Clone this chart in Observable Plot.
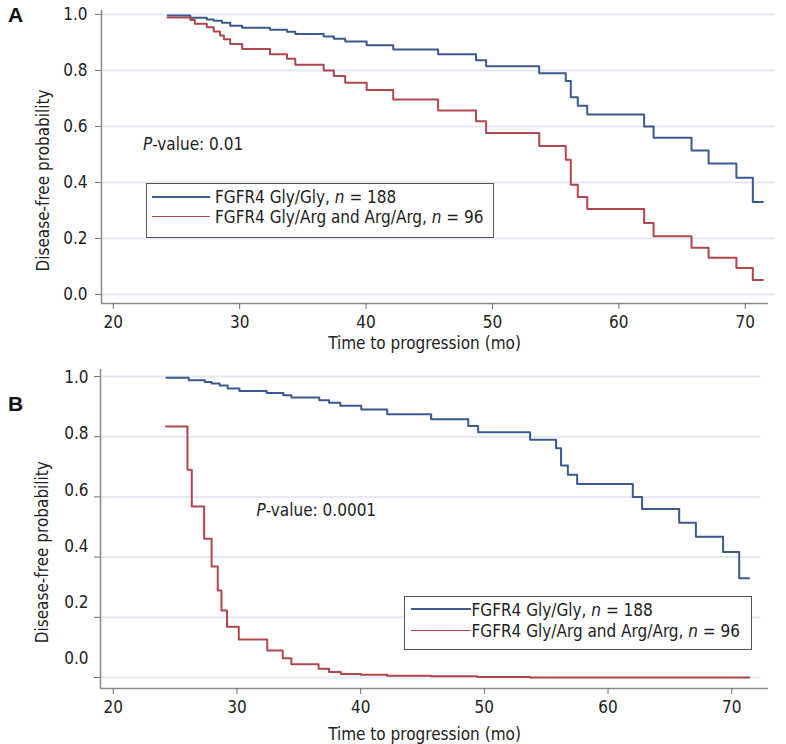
<!DOCTYPE html>
<html>
<head>
<meta charset="utf-8">
<script src="https://cdn.jsdelivr.net/npm/d3@7"></script>
<script src="https://cdn.jsdelivr.net/npm/@observablehq/plot@0.6"></script>
<style>
  html, body { margin: 0; padding: 0; background: #fff; }
  #page { position: relative; width: 786px; height: 744px; overflow: hidden;
          font-family: "DejaVu Sans Condensed", "Liberation Sans", Arial, sans-serif; color: #222; }
  .abs { position: absolute; white-space: nowrap; }
  .txt { font-size: 17px; line-height: 20px; }
  .letter { font-family: "Liberation Sans", Arial, sans-serif; font-weight: bold; font-size: 21px; line-height: 21px; color: #111; }
  .box { position: absolute; border: 1px solid #555; box-sizing: border-box; background: #fff; }
  .swatch { position: absolute; }
</style>
</head>
<body>
<div id="page">
  <div id="panelA" class="abs" style="left:0;top:0"></div>
  <div id="panelB" class="abs" style="left:0;top:358px"></div>
</div>
<script>
// ---------- data ----------
const xTicks = [20, 30, 40, 50, 60, 70];
const yTicks = [0, 0.2, 0.4, 0.6, 0.8, 1.0];
const groups = ["FGFR4 Gly/Gly", "FGFR4 Gly/Arg and Arg/Arg"];
const groupN = [188, 96];
const pValueA = "0.01";
const pValueB = "0.0001";

// Gly/Gly (same group in both panels)
const glyTime = [24.3, 26.1, 27.4, 27.95, 28.6, 29.25, 30.2, 32.4, 33.75, 34.4, 36.65, 37.45, 38.35, 40.05, 42.15, 45.7, 48.7, 49.5, 53.7, 55.8, 56.2, 56.75, 57.5, 62.0, 62.75, 65.75, 67.1, 69.3, 70.6, 71.4];
const glySurv = [0.996, 0.988, 0.982, 0.977, 0.970, 0.960, 0.952, 0.945, 0.938, 0.930, 0.921, 0.913, 0.903, 0.890, 0.875, 0.858, 0.836, 0.815, 0.790, 0.762, 0.704, 0.674, 0.643, 0.600, 0.560, 0.514, 0.468, 0.417, 0.330, 0.330];

// Gly/Arg + Arg/Arg, panel A
const argTimeA = [24.3, 26.1, 26.45, 27.4, 27.95, 28.45, 28.75, 29.25, 30.2, 32.4, 33.75, 34.4, 36.65, 37.45, 38.35, 40.05, 42.15, 45.7, 48.7, 49.5, 53.7, 55.8, 56.2, 56.75, 57.5, 62.0, 62.75, 65.75, 67.1, 69.3, 70.6, 71.4];
const argSurvA = [0.989, 0.980, 0.967, 0.954, 0.939, 0.925, 0.911, 0.894, 0.877, 0.858, 0.842, 0.820, 0.800, 0.780, 0.756, 0.730, 0.696, 0.657, 0.619, 0.577, 0.530, 0.481, 0.392, 0.348, 0.305, 0.255, 0.208, 0.167, 0.131, 0.095, 0.052, 0.052];

// Gly/Arg + Arg/Arg, panel B
const argTimeB = [24.25, 26.0, 26.35, 27.35, 27.95, 28.45, 28.75, 29.2, 30.15, 32.45, 33.7, 34.4, 36.6, 37.45, 38.4, 40.0, 42.15, 45.7, 49.4, 53.7, 71.4];
const argSurvB = [0.834, 0.690, 0.568, 0.461, 0.369, 0.289, 0.223, 0.169, 0.126, 0.090, 0.064, 0.044, 0.029, 0.018, 0.012, 0.009, 0.006, 0.004, 0.002, 0.0, 0.0];

// ---------- styles ----------
const FONT = '"DejaVu Sans Condensed", "Liberation Sans", Arial, sans-serif';
const COLORS = ["#3a5a90", "#b2464e"];
const GRID = "#e4e9f1";
const AXIS = "#8a8a8a";
const TICK = "#6f6f6f";

function km(times, surv, group) {
  return times.map((t, i) => ({t, s: surv[i], group}));
}

function panel(cfg) {
  const data = [...km(glyTime, glySurv, groups[0]), ...km(cfg.argTime, cfg.argSurv, groups[1])];
  return Plot.plot({
    width: 786,
    height: cfg.height,
    marginTop: cfg.marginTop,
    marginBottom: cfg.marginBottom,
    marginLeft: cfg.marginLeft,
    marginRight: cfg.marginRight,
    x: {domain: cfg.xDomain, label: null},
    y: {domain: cfg.yDomain, label: null},
    color: {domain: groups, range: COLORS},
    style: {fontFamily: FONT, fontSize: "17px", color: "#222", background: "transparent", overflow: "visible"},
    marks: [
      Plot.ruleY(yTicks, {x1: cfg.xDomain[0], x2: cfg.gridEnd, stroke: GRID, strokeWidth: 2}),
      Plot.line(data, {x: "t", y: "s", z: "group", stroke: "group", curve: "step-after", strokeWidth: 2}),
      Plot.ruleX([cfg.xDomain[0]], {stroke: AXIS, strokeWidth: 1.5}),
      Plot.ruleY([cfg.yDomain[0]], {stroke: AXIS, strokeWidth: 1.5}),
      Plot.axisX({ticks: xTicks, tickSize: 6, tickPadding: 6, stroke: TICK, fill: "#222", label: null}),
      Plot.axisY({ticks: yTicks, tickSize: 6, tickFormat: () => "", stroke: TICK, label: null}),
      Plot.text(yTicks, {y: cfg.yLabelPos, text: d => d.toFixed(1), frameAnchor: "left", textAnchor: "end", lineAnchor: "middle", dx: cfg.yLabelDx, fill: "#222"}),
      Plot.text(["Time to progression (mo)"], {text: d => d, frameAnchor: "bottom", textAnchor: "middle", lineAnchor: "middle", dx: cfg.xTitleDx, dy: cfg.xTitleDy, fill: "#222"}),
      Plot.text(["Disease-free probability"], {text: d => d, frameAnchor: "left", textAnchor: "middle", lineAnchor: "middle", rotate: -90, dx: cfg.yTitleDx, dy: cfg.yTitleDy, fill: "#222"})
    ]
  });
}

document.getElementById("panelA").append(panel({
  height: 358, marginTop: 10, marginBottom: 55, marginLeft: 101, marginRight: 18,
  xDomain: [19.07, 71.84], yDomain: [-0.032, 1.014], gridEnd: 72.37,
  argTime: argTimeA, argSurv: argSurvA,
  yLabelPos: d => d, yLabelDx: -14,
  xTitleDx: -10.5, xTitleDy: 40.5, yTitleDx: -58, yTitleDy: 23.5
}));

// panel B: tick labels are drawn on a slightly compressed ladder, as in the original figure
document.getElementById("panelB").append(panel({
  height: 386, marginTop: 11, marginBottom: 56, marginLeft: 100, marginRight: 18,
  xDomain: [18.97, 72.97], yDomain: [-0.0365, 1.0233], gridEnd: 72.33,
  argTime: argTimeB, argSurv: argSurvB,
  yLabelPos: d => 0.0615 + 0.935 * d, yLabelDx: -12,
  xTitleDx: -10, xTitleDy: 46, yTitleDx: -58.3, yTitleDy: 23.2
}));

// ---------- overlays: panel letters, p-values, legends ----------
const page = document.getElementById("page");
function el(cls, style, html) {
  const d = document.createElement("div");
  d.className = cls;
  d.setAttribute("style", style);
  if (html != null) d.innerHTML = html;
  page.append(d);
  return d;
}
el("abs letter", "left:8px;top:4px", "A");
el("abs letter", "left:8px;top:393px", "B");
el("abs txt", "left:143px;top:134px", `<i>P</i>-value: ${pValueA}`);
el("abs txt", "left:256.5px;top:500px", `<i>P</i>-value: ${pValueB}`);

function legend(box, lineX1, lineX2, textX, rowsY) {
  el("box", `left:${box[0]}px;top:${box[1]}px;width:${box[2]}px;height:${box[3]}px`);
  groups.forEach((g, i) => {
    el("swatch", `left:${lineX1}px;top:${rowsY[i] - 1}px;width:${lineX2 - lineX1}px;height:${i === 0 ? 2 : 1.5}px;background:${COLORS[i]}`);
    el("abs txt", `left:${textX}px;top:${rowsY[i] - 9.8}px`, `${g}, <i>n</i> = ${groupN[i]}`);
  });
}
legend([145.5, 183, 348, 54.5], 151.5, 210, 215, [197.2, 216.5]);
legend([404, 595.5, 347.5, 54], 410.5, 471, 471.5, [609.3, 630.5]);
</script>
</body>
</html>
